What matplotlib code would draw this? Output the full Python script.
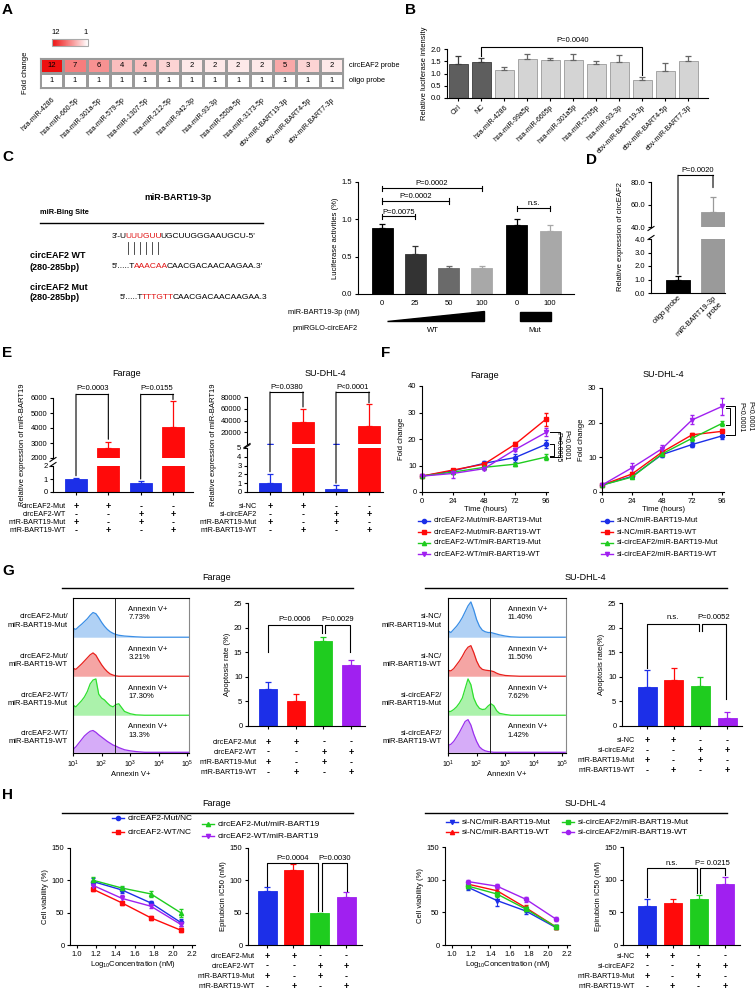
import matplotlib
matplotlib.use("Agg")
import matplotlib.pyplot as plt
import numpy as np
from matplotlib.lines import Line2D
from matplotlib.patches import ConnectionPatch, Polygon, Rectangle
from matplotlib.colors import LinearSegmentedColormap, Normalize
from matplotlib.cm import ScalarMappable

plt.rcParams['font.family'] = ['Liberation Sans', 'DejaVu Sans']
plt.rcParams['font.size'] = 5.5
plt.rcParams['axes.linewidth'] = 0.8
for a in ('xtick', 'ytick'):
    plt.rcParams[a + '.major.width'] = 0.8
    plt.rcParams[a + '.major.size'] = 2.5
    plt.rcParams[a + '.major.pad'] = 1.5
    plt.rcParams[a + '.labelsize'] = 5.5
plt.rcParams['axes.labelsize'] = 5.5
plt.rcParams['axes.labelpad'] = 2
plt.rcParams['mathtext.default'] = 'regular'

# ---------------- data ----------------
# A: pull-down fold change
heat_mirs = ['hsa-miR-4286', 'hsa-miR-660-5p', 'hsa-miR-301a-5p', 'hsa-miR-579-5p',
             'hsa-miR-1307-5p', 'hsa-miR-212-5p', 'hsa-miR-942-3p', 'hsa-miR-93-3p',
             'hsa-miR-550a-5p', 'hsa-miR-3173-5p', 'ebv-miR-BART19-3p',
             'ebv-miR-BART4-5p', 'ebv-miR-BART7-3p']
heat_probe = [12, 7, 6, 4, 4, 3, 2, 2, 2, 2, 5, 3, 2]
heat_oligo = [1, 1, 1, 1, 1, 1, 1, 1, 1, 1, 1, 1, 1]
heat_rows = ['circEAF2 probe', 'oligo probe']

# B: luciferase screen
luc_labels = ['Ctrl', 'NC', 'hsa-miR-4286', 'hsa-miR-99a5p', 'hsa-miR-6605p', 'hsa-miR-301a5p',
              'hsa-miR-5795p', 'hsa-miR-93-3p', 'ebv-miR-BART19-3p', 'ebv-miR-BART4-5p',
              'ebv-miR-BART7-3p']
luc_mean = [1.40, 1.45, 1.15, 1.60, 1.55, 1.55, 1.40, 1.45, 0.75, 1.12, 1.50]
luc_err = [0.30, 0.20, 0.12, 0.20, 0.08, 0.25, 0.10, 0.30, 0.12, 0.30, 0.20]

# C: dose response
c_ticks = ['0', '25', '50', '100', '0', '100']
c_mean = [0.88, 0.53, 0.35, 0.35, 0.92, 0.84]
c_err = [0.06, 0.11, 0.03, 0.03, 0.09, 0.08]

# D: pull-down qPCR
d_labels = ['oligo probe', 'miR-BART19-3p\nprobe']
d_mean = [1.0, 53.0]
d_err = [0.25, 14.0]

# E: miR-BART19 expression
e_far_mean = [1.0, 2700, 0.7, 4100]
e_far_err = [0.1, 400, 0.12, 1700]
e_su_mean = [1.0, 38000, 0.3, 31000]
e_su_err = [1.0, 22000, 0.45, 37000]
far_rows = ['circEAF2-Mut', 'circEAF2-WT', 'miR-BART19-Mut', 'miR-BART19-WT']
su_rows = ['si-NC', 'si-circEAF2', 'miR-BART19-Mut', 'miR-BART19-WT']
sign_pattern = ['++--', '--++', '+-+-', '-+-+']

# F: proliferation
f_time = [0, 24, 48, 72, 96]
f_far_1 = [6, 8.0, 10.8, 13.0, 18.0]
f_far_2 = [6, 8.3, 10.5, 18.0, 27.5]
f_far_3 = [6, 7.5, 9.3, 10.5, 13.2]
f_far_4 = [6, 7.0, 8.8, 16.0, 22.5]
f_far_e1 = [0.5, 0.5, 0.8, 1.5, 1.5]
f_far_e2 = [0.5, 0.5, 0.6, 0.8, 2.5]
f_far_e3 = [0.4, 0.4, 0.5, 0.6, 1.0]
f_far_e4 = [0.4, 1.8, 0.6, 0.7, 1.5]
f_su_1 = [2, 4.5, 10.8, 13.7, 16.2]
f_su_2 = [2, 5.2, 11.5, 16.5, 17.5]
f_su_3 = [2, 4.3, 11.0, 15.5, 19.8]
f_su_4 = [2, 7.0, 12.5, 20.8, 24.7]
f_su_e1 = [0.3, 0.4, 0.6, 0.8, 0.8]
f_su_e2 = [0.3, 0.5, 0.6, 0.6, 0.6]
f_su_e3 = [0.3, 0.4, 0.6, 0.7, 0.8]
f_su_e4 = [0.3, 1.5, 1.2, 1.3, 2.5]
f_far_names = ['circEAF2-Mut/miR-BART19-Mut', 'circEAF2-Mut/miR-BART19-WT',
               'circEAF2-WT/miR-BART19-Mut', 'circEAF2-WT/miR-BART19-WT']
f_su_names = ['si-NC/miR-BART19-Mut', 'si-NC/miR-BART19-WT',
              'si-circEAF2/miR-BART19-Mut', 'si-circEAF2/miR-BART19-WT']

# G: apoptosis (flow histograms, log10 Annexin V)
hist_log = [1.0, 1.03, 1.1, 1.2, 1.3, 1.4, 1.5, 1.6, 1.7, 1.8, 1.9, 2.0, 2.1, 2.2,
            2.3, 2.4, 2.5, 2.6, 2.7, 2.8, 3.0, 3.2, 3.5, 5.1]
g_far_h1 = [0, .22, .20, .27, .33, .40, .47, .56, .63, .60, .50, .38, .28, .20, .14, .10, .07, .05, .04, .03, .02, .01, 0, 0]
g_far_h2 = [0, .20, .18, .25, .32, .40, .48, .56, .61, .55, .42, .30, .20, .12, .06, .03, .01, 0, 0, 0, 0, 0, 0, 0]
g_far_h3 = [0, .25, .22, .30, .38, .48, .62, .82, .92, .95, .55, .45, .40, .32, .25, .22, .28, .30, .20, .10, .04, .01, 0, 0]
g_far_h4 = [0, .10, .15, .25, .35, .45, .52, .58, .60, .55, .48, .42, .36, .30, .25, .20, .17, .13, .10, .07, .04, .02, 0, 0]
g_su_h1 = [0, .15, .12, .20, .28, .38, .50, .65, .80, .90, .70, .45, .28, .18, .14, .12, .12, .10, .08, .06, .03, .01, 0, 0]
g_su_h2 = [0, .15, .14, .20, .30, .40, .52, .66, .76, .80, .62, .40, .25, .18, .16, .15, .14, .12, .08, .05, .02, .01, 0, 0]
g_su_h3 = [0, .10, .10, .15, .22, .32, .45, .70, .95, .80, .45, .28, .18, .15, .16, .24, .30, .25, .12, .05, .02, 0, 0, 0]
g_su_h4 = [0, .20, .22, .30, .42, .55, .70, .85, .90, .75, .50, .30, .15, .08, .04, .02, .01, 0, 0, 0, 0, 0, 0, 0]
g_far_pct = ['7.73%', '3.21%', '17.30%', '13.3%']
g_su_pct = ['11.40%', '11.50%', '7.62%', '1.42%']
g_far_rows = ['circEAF2-Mut/\nmiR-BART19-Mut', 'circEAF2-Mut/\nmiR-BART19-WT',
              'circEAF2-WT/\nmiR-BART19-Mut', 'circEAF2-WT/\nmiR-BART19-WT']
g_su_rows = ['si-NC/\nmiR-BART19-Mut', 'si-NC/\nmiR-BART19-WT',
             'si-circEAF2/\nmiR-BART19-Mut', 'si-circEAF2/\nmiR-BART19-WT']
g_far_mean = [7.5, 5.0, 17.3, 12.4]
g_far_err = [1.5, 1.6, 0.8, 1.1]
g_su_mean = [8.0, 9.3, 8.2, 1.7]
g_su_err = [3.3, 2.5, 1.8, 1.2]

# H: epirubicin sensitivity
h_conc = [1.17, 1.47, 1.77, 2.08]
h_far_1 = [98, 85, 65, 35]
h_far_2 = [86, 65, 42, 23]
h_far_3 = [100, 88, 79, 50]
h_far_4 = [92, 72, 60, 32]
h_far_e1 = [5, 4, 3, 5]
h_far_e2 = [3, 3, 3, 3]
h_far_e3 = [5, 3, 5, 6]
h_far_e4 = [3, 6, 3, 3]
h_su_1 = [88, 68, 52, 27]
h_su_2 = [93, 83, 57, 28]
h_su_3 = [90, 78, 55, 28]
h_su_4 = [97, 90, 70, 40]
h_su_e1 = [4, 9, 4, 3]
h_su_e2 = [4, 4, 4, 3]
h_su_e3 = [4, 4, 4, 3]
h_su_e4 = [3, 4, 4, 3]
h_far_names = ['circEAF2-Mut/NC', 'circEAF2-WT/NC', 'circEAF2-Mut/miR-BART19', 'circEAF2-WT/miR-BART19']
h_far_ic50 = [84, 116, 49, 75]
h_far_ic50_err = [5, 9, 1, 7]
h_su_ic50 = [60, 65, 70, 94]
h_su_ic50_err = [11, 5, 7, 10]

# ---------------- layout helpers ----------------
W, H = 755, 993
fig = plt.figure(figsize=(W / 100, H / 100), dpi=100)
renderer = fig.canvas.get_renderer()

BLUE, RED, GREEN, PURPLE = '#1c2fe8', '#ff0a0a', '#1fcc1f', '#a020f0'
four = [BLUE, RED, GREEN, PURPLE]


def box(x0, y0, x1, y1):
    return fig.add_axes([x0 / W, 1 - y1 / H, (x1 - x0) / W, (y1 - y0) / H])


def ftext(x, y, s, **kw):
    kw.setdefault('ha', 'center')
    kw.setdefault('va', 'center')
    return fig.text(x / W, 1 - y / H, s, **kw)


def fline(xs, ys, **kw):
    kw.setdefault('color', 'k')
    kw.setdefault('lw', 0.8)
    ln = Line2D([x / W for x in xs], [1 - y / H for y in ys], transform=fig.transFigure, **kw)
    fig.add_artist(ln)
    return ln


def prism(ax):
    ax.spines['top'].set_visible(False)
    ax.spines['right'].set_visible(False)


def bar_axes(x_spine, x_first, x_last, n, x_right, y_top, y_bot):
    s = (x_last - x_first) / (n - 1)
    ax = box(x_spine, y_top, x_right, y_bot)
    ax.set_xlim((x_spine - x_first) / s, (x_right - x_first) / s)
    prism(ax)
    return ax, s


def bars(ax, x, mean, err, colors, width, edge=None, ecol=None):
    ax.bar(x, mean, width=width, color=colors, edgecolor=edge or colors, linewidth=0.6)
    for xi, m, e, c in zip(x, mean, err, ecol or edge or colors):
        ax.errorbar(xi, m, yerr=[[0], [e]], fmt='none', ecolor=c, elinewidth=0.9,
                    capsize=2.2, capthick=0.9)


def bracket(ax, x1, x2, h, y1, y2, text, dy):
    ax.plot([x1, x1, x2, x2], [y1, h, h, y2], color='k', lw=0.8, clip_on=False)
    ax.text((x1 + x2) / 2, h + dy, text, ha='center', va='bottom', fontsize=5.5)


def link(axA, pA, axB, pB):
    fig.add_artist(ConnectionPatch(pA, pB, coordsA=axA.transData, coordsB=axB.transData,
                                   color='k', lw=0.8, annotation_clip=False))


def broken_bracket(ax1, x1, y1, axh, h, x2, ax2, y2, text, dy):
    link(ax1, (x1, y1), axh, (x1, h))
    axh.plot([x1, x2], [h, h], color='k', lw=0.8, clip_on=False)
    link(axh, (x2, h), ax2, (x2, y2))
    axh.text((x1 + x2) / 2, h + dy, text, ha='center', va='bottom', fontsize=5.5)


def break_mark(x, y_top, y_bot):
    for y in (y_top + 1.5, y_bot - 1.5):
        fline([x - 3, x + 3], [y + 2, y - 2], lw=0.8)


def sign_table(label_x, xs, ys, labels):
    for lab, y, pat in zip(labels, ys, sign_pattern):
        ftext(label_x, y, lab, ha='right', fontsize=5.2)
        for x, p in zip(xs, pat):
            ftext(x, y, p, fontsize=6.5, fontweight='bold')


def legend_entry(x, y, color, marker, label, fs=5.5):
    fline([x - 6, x, x + 6], [y, y, y], color=color, lw=1.0, marker=marker, ms=3,
          markevery=[1])
    ftext(x + 10, y, label, ha='left', fontsize=fs)


def color_text(x, y, parts, **kw):
    cur = x
    spans = []
    for s, c in parts:
        t = fig.text(cur / W, 1 - y / H, s, color=c, ha='left', va='center', **kw)
        bb = t.get_window_extent(renderer)
        spans.append((cur, cur + bb.width - 1.5))
        cur += bb.width - 1.5
    return spans


def letter(x, y, s):
    ftext(x, y, s, ha='left', va='top', fontsize=11, fontweight='bold')


# ---------------- A ----------------
letter(2, 3, 'A')
cmap_red = LinearSegmentedColormap.from_list('wr', ['#ffffff', '#ee1010'])
axA = box(40, 58, 343, 88)
grid = np.array([heat_probe, heat_oligo])
axA.pcolormesh(grid, cmap=cmap_red, vmin=1, vmax=12, edgecolors='#9a9a9a', linewidth=0.8)
axA.set_ylim(2, 0)
for i in range(2):
    for j in range(grid.shape[1]):
        axA.text(j + 0.5, i + 0.5, str(grid[i, j]), ha='center', va='center', fontsize=5.5)
axA.set_xticks(np.arange(len(heat_mirs)) + 0.5)
axA.set_xticklabels(heat_mirs, rotation=45, ha='right', rotation_mode='anchor', fontsize=5)
axA.set_yticks([])
axA.tick_params(axis='x', length=0, pad=6)
for s in axA.spines.values():
    s.set_color('#9a9a9a')
for i, lab in enumerate(heat_rows):
    axA.text(13.25, i + 0.5, lab, ha='left', va='center', fontsize=5.3)
ftext(25, 73, 'Fold change', rotation=90)
cax = box(52, 39, 88, 46)
cb = fig.colorbar(ScalarMappable(Normalize(1, 12), cmap_red.reversed()), cax=cax,
                  orientation='horizontal')
cb.set_ticks([])
cb.outline.set_edgecolor('#aaaaaa')
ftext(56, 32, '12', fontsize=5.5)
ftext(86, 32, '1', fontsize=5.5)

# ---------------- B ----------------
letter(405, 3, 'B')
axB, sB = bar_axes(447, 458, 688, 11, 708, 49, 98)
xB = np.arange(len(luc_labels))
bars(axB, xB, luc_mean, luc_err, ['#5e5e5e'] * 2 + ['#d4d4d4'] * 9, 19 / sB,
     edge=['#3c3c3c'] * 2 + ['#9a9a9a'] * 9, ecol=['#3c3c3c'] * 2 + ['#666666'] * 9)
axB.set_ylim(0, 2)
axB.set_yticks([0, 0.5, 1, 1.5, 2])
axB.set_yticklabels(['0.0', '0.5', '1.0', '1.5', '2.0'])
axB.set_xticks(xB)
axB.set_xticklabels(luc_labels, rotation=45, ha='right', rotation_mode='anchor', fontsize=5)
axB.set_ylabel('Relative luciferase intensity')
bracket(axB, 1, 8, 2.1, 1.72, 0.93, '', 0)
axB.text(5.0, 2.22, 'P=0.0040', ha='center', va='bottom', fontsize=5.5)

# ---------------- C ----------------
letter(2, 150, 'C')
ftext(178, 197, 'miR-BART19-3p', fontsize=6.3, fontweight='bold')
ftext(40, 213, 'miR-Bing Site', ha='left', fontsize=5.3, fontweight='bold')
fline([40, 263], [223, 223], lw=1.0)
seq3 = color_text(112, 237, [("3'-U", 'k'), ('UUUGUU', '#e01010'),
                             ("UGCUUGGGAAUGCU-5'", 'k')], fontsize=6.0)
cw = (seq3[1][1] - seq3[1][0]) / 6
for k in range(6):
    xk = seq3[1][0] + (k + 0.5) * cw
    fline([xk, xk], [242, 254], lw=0.6, color='#333333')
ftext(30, 255, 'circEAF2 WT', ha='left', fontsize=6.5, fontweight='bold')
ftext(30, 267, '(280-285bp)', ha='left', fontsize=6.5, fontweight='bold')
color_text(112, 267, [("5'.....T", 'k'), ('AAACAA', '#e01010'),
                      ("CAACGACAACAAGAA.3'", 'k')], fontsize=6.0)
ftext(30, 287, 'circEAF2 Mut', ha='left', fontsize=6.5, fontweight='bold')
ftext(30, 298, '(280-285bp)', ha='left', fontsize=6.5, fontweight='bold')
color_text(120, 297, [("5'.....T", 'k'), ('TTTGTT', '#e01010'),
                      ("CAACGACAACAAGAA.3", 'k')], fontsize=6.0)

c_x = [0, 1, 2, 3, 4.05, 5.05]
axC = box(358, 182, 574, 294)
axC.set_xlim((358 - 382) / 33.3, (574 - 382) / 33.3)
prism(axC)
c_cols = ['#000000', '#333333', '#6a6a6a', '#a8a8a8', '#000000', '#a8a8a8']
bars(axC, c_x, c_mean, c_err, c_cols, 21 / 33.3)
axC.set_ylim(0, 1.5)
axC.set_yticks([0, 0.5, 1.0, 1.5])
axC.set_yticklabels(['0.0', '0.5', '1.0', '1.5'])
axC.set_xticks(c_x)
axC.set_xticklabels(c_ticks)
axC.tick_params(axis='x', length=0, pad=4)
axC.set_ylabel('Luciferase activities (%)')
for x1, x2, h, t in [(0, 1, 1.04, 'P=0.0075'), (0, 2, 1.25, 'P=0.0002'),
                     (0, 3, 1.42, 'P=0.0002'), (4.05, 5.05, 1.15, 'n.s.')]:
    axC.plot([x1, x2], [h, h], color='k', lw=0.8, clip_on=False)
    for xe in (x1, x2):
        axC.plot([xe, xe], [h - 0.04, h + 0.03], color='k', lw=0.8, clip_on=False)
    axC.text((x1 + x2) / 2, h + 0.01, t, ha='center', va='bottom', fontsize=5.5)
ftext(360, 312, 'miR-BART19-3p (nM)', ha='right', fontsize=5.3)
ftext(358, 329, 'pmiRGLO-circEAF2', ha='right', fontsize=5.3)
fig.add_artist(Polygon([(387 / W, 1 - 321 / H), (484 / W, 1 - 321 / H), (484 / W, 1 - 311 / H)],
                       closed=True, color='k', transform=fig.transFigure))
fig.add_artist(Rectangle((520 / W, 1 - 321 / H), 31 / W, 9 / H, color='k',
                         transform=fig.transFigure))
ftext(433, 331, 'WT', fontsize=5.5)
ftext(535, 331, 'Mut', fontsize=5.5)

# ---------------- D ----------------
letter(586, 153, 'D')
d_x = [0, 1]
dl, dr = (651 - 678) / 35, (725 - 678) / 35
axDt = box(651, 182, 725, 227)
axDb = box(651, 239, 725, 293)
for ax in (axDt, axDb):
    ax.set_xlim(dl, dr)
    prism(ax)
    bars(ax, d_x, d_mean, d_err, ['#000000', '#9a9a9a'], 24 / 35)
axDt.spines['bottom'].set_visible(False)
axDt.set_xticks([])
axDt.set_ylim(40, 80)
axDt.set_yticks([40, 60, 80])
axDt.set_yticklabels(['40.0', '60.0', '80.0'])
axDb.set_ylim(0, 4)
axDb.set_yticks([0, 1, 2, 3, 4])
axDb.set_yticklabels(['0.0', '1.0', '2.0', '3.0', '4.0'])
axDb.set_xticks(d_x)
axDb.set_xticklabels(d_labels, rotation=45, ha='right', rotation_mode='anchor', fontsize=5.3)
axDb.tick_params(axis='x', length=0)
break_mark(651, 227, 239)
ftext(621, 237, 'Relative expression of circEAF2', rotation=90)
broken_bracket(axDb, 0, 1.4, axDt, 86, 1, axDt, 75, '', 0)
axDt.text(0.57, 87.5, 'P=0.0020', ha='center', va='bottom', fontsize=5.5)

# ---------------- E ----------------
letter(2, 346, 'E')
e_x = [0, 1, 2, 3]
e_cols = [BLUE, RED, BLUE, RED]
s_ef = (173 - 76) / 3
axEt = box(53, 398, 193, 458)
axEb = box(53, 466, 193, 492)
for ax in (axEt, axEb):
    ax.set_xlim((53 - 76) / s_ef, (193 - 76) / s_ef)
    prism(ax)
    bars(ax, e_x, e_far_mean, e_far_err, e_cols, 22 / s_ef)
axEt.spines['bottom'].set_visible(False)
axEt.set_xticks([])
axEt.set_ylim(2000, 6000)
axEt.set_yticks([2000, 3000, 4000, 5000, 6000])
axEb.set_ylim(0, 2)
axEb.set_yticks([0, 1, 2])
axEb.set_xticks(e_x)
axEb.set_xticklabels([])
break_mark(53, 458, 466)
ftext(127, 373, 'Farage', fontsize=6.5)
ftext(23, 445, 'Relative expression of miR-BART19', rotation=90)
broken_bracket(axEb, 0, 1.25, axEt, 6250, 1, axEt, 3250, 'P=0.0003', 150)
broken_bracket(axEb, 2, 1.0, axEt, 6250, 3, axEt, 5900, 'P=0.0155', 150)
sign_table(66, [76, 108, 141, 173], [507, 515, 523, 531], far_rows)

s_es = (369 - 270) / 3
axSt = box(247, 397, 383, 444)
axSb = box(247, 448, 383, 492)
for ax in (axSt, axSb):
    ax.set_xlim((247 - 270) / s_es, (383 - 270) / s_es)
    prism(ax)
    bars(ax, e_x, e_su_mean, e_su_err, e_cols, 22 / s_es)
axSt.spines['bottom'].set_visible(False)
axSt.set_xticks([])
axSt.set_ylim(0, 80000)
axSt.set_yticks([20000, 40000, 60000, 80000])
axSb.set_ylim(0, 5)
axSb.set_yticks([0, 1, 2, 3, 4, 5])
axSb.set_xticks(e_x)
axSb.set_xticklabels([])
break_mark(247, 444, 448)
ftext(325, 373, 'SU-DHL-4', fontsize=6.5)
ftext(213, 445, 'Relative expression of miR-BART19', rotation=90)
broken_bracket(axSb, 0, 2.3, axSt, 88500, 1, axSt, 63000, 'P=0.0380', 2500)
broken_bracket(axSb, 2, 1.0, axSt, 88500, 3, axSt, 70000, 'P<0.0001', 2500)
sign_table(257, [270, 303, 336, 369], [507, 515, 523, 531], su_rows)

# ---------------- F ----------------
letter(381, 346, 'F')
marks = ['o', 's', '^', 'v']


def line_panel(ax, x, ys, es):
    for y, e, c, m in zip(ys, es, four, marks):
        ax.errorbar(x, y, yerr=e, color=c, marker=m, ms=3, lw=1.0, elinewidth=0.8,
                    capsize=1.5, clip_on=False)


axF1 = box(422, 386, 548, 492)
prism(axF1)
line_panel(axF1, f_time, [f_far_1, f_far_2, f_far_3, f_far_4],
           [f_far_e1, f_far_e2, f_far_e3, f_far_e4])
axF1.set_xlim(0, 97.5)
axF1.set_ylim(0, 40)
axF1.set_xticks(f_time)
axF1.set_yticks([0, 10, 20, 30, 40])
axF1.set_xlabel('Time (hours)', labelpad=1)
axF1.set_ylabel('Fold change')
axF1.set_title('Farage', fontsize=6.5, pad=6)
axF1.plot([99, 107, 107, 99], [22.5, 22.5, 13.2, 13.2], color='k', lw=0.7, clip_on=False)
axF1.plot([99, 102, 102, 99], [18.0, 18.0, 13.6, 13.6], color='k', lw=0.7, clip_on=False)
axF1.text(105, 17.0, 'P=0.0005', rotation=270, ha='center', va='center', fontsize=5)
axF1.text(111.5, 17.5, 'P<0.0001', rotation=270, ha='center', va='center', fontsize=5)

axF2 = box(602, 388, 724, 492)
prism(axF2)
line_panel(axF2, f_time, [f_su_1, f_su_2, f_su_3, f_su_4],
           [f_su_e1, f_su_e2, f_su_e3, f_su_e4])
axF2.set_xlim(0, 97.5)
axF2.set_ylim(0, 30)
axF2.set_xticks(f_time)
axF2.set_yticks([0, 10, 20, 30])
axF2.set_xlabel('Time (hours)', labelpad=1)
axF2.set_ylabel('Fold change')
axF2.set_title('SU-DHL-4', fontsize=6.5, pad=8)
axF2.plot([99, 106, 106, 99], [24.9, 24.9, 16.5, 16.5], color='k', lw=0.7, clip_on=False)
axF2.plot([99, 102, 102, 99], [24.2, 24.2, 19.2, 19.2], color='k', lw=0.7, clip_on=False)
axF2.text(111, 21.5, 'P<0.0001', rotation=270, ha='center', va='center', fontsize=5)
axF2.text(118, 22.0, 'P<0.0001', rotation=270, ha='center', va='center', fontsize=5)

for i in range(4):
    legend_entry(424, 521 + 11 * i, four[i], marks[i], f_far_names[i])
    legend_entry(607, 521 + 11 * i, four[i], marks[i], f_su_names[i])

# ---------------- G ----------------
letter(2, 564, 'G')
ftext(217, 578, 'Farage', fontsize=6.5)
fline([62, 353], [588, 588], lw=1.0)
ftext(585, 578, 'SU-DHL-4', fontsize=6.5)
fline([425, 727], [588, 588], lw=1.0)

hist_line = ['#3a8ee6', '#e8201c', '#2ee02e', '#9a30ee']
rows_y = [598, 638, 677, 716, 753]


def flow_panel(x0, x1, curves, pct, labels, label_x, gate, text_x):
    xmax = 1 + (x1 - x0) / 28.6
    for i in range(4):
        ax = box(x0, rows_y[i], x1, rows_y[i + 1])
        ax.fill_between(hist_log, curves[i], color=hist_line[i], alpha=0.4, lw=0)
        ax.plot(hist_log, curves[i], color=hist_line[i], lw=0.9)
        ax.set_xlim(1, xmax)
        ax.set_ylim(-0.02, 1)
        ax.axis('off')
        ax.axvline(gate, color='#222222', lw=0.7)
        ax.text(text_x, 0.8, 'Annexin V+\n' + pct[i], ha='left', va='top', fontsize=5.5,
                linespacing=1.3)
        ftext(label_x, (rows_y[i] + rows_y[i + 1]) / 2 + 3, labels[i], ha='right',
              fontsize=5.5, linespacing=1.3)
    outer = box(x0, rows_y[0], x1, rows_y[4])
    outer.patch.set_visible(False)
    outer.set_xlim(1, xmax)
    outer.set_ylim(0, 1)
    outer.set_yticks([])
    outer.set_xticks([1, 2, 3, 4, 5])
    outer.set_xticklabels(['$10^{%d}$' % k for k in range(1, 6)], fontsize=5)
    outer.set_xlabel('Annexin V+', labelpad=1)
    outer.spines['right'].set_color('#888888')


flow_panel(73, 189, [g_far_h1, g_far_h2, g_far_h3, g_far_h4], g_far_pct, g_far_rows,
           68, 2.47, 2.93)
flow_panel(448, 566, [g_su_h1, g_su_h2, g_su_h3, g_su_h4], g_su_pct, g_su_rows,
           442, 2.46, 3.09)

axG1, sG1 = bar_axes(248, 268, 351, 4, 365, 603, 726)
bars(axG1, e_x, g_far_mean, g_far_err, four, 18 / sG1)
axG1.set_ylim(0, 25)
axG1.set_yticks([0, 5, 10, 15, 20, 25])
axG1.set_xticks(e_x)
axG1.set_xticklabels([])
axG1.set_ylabel('Apoptosis rate (%)')
bracket(axG1, 0, 1.95, 20.5, 15.0, 19.0, 'P=0.0006', 0.4)
bracket(axG1, 2.06, 2.96, 20.5, 19.0, 15.0, 'P=0.0029', 0.4)
sign_table(257, [268, 296, 324, 351], [742, 752, 763, 773], far_rows)

axG2, sG2 = bar_axes(622, 647, 727, 4, 742, 603, 726)
bars(axG2, e_x, g_su_mean, g_su_err, four, 19 / sG2)
axG2.set_ylim(0, 25)
axG2.set_yticks([0, 5, 10, 15, 20, 25])
axG2.set_xticks(e_x)
axG2.set_xticklabels([])
axG2.set_ylabel('Apoptosis rate(%)')
bracket(axG2, 0, 1.95, 20.8, 11.8, 19.3, 'n.s.', 0.6)
bracket(axG2, 2.05, 2.95, 20.8, 19.3, 5.5, 'P=0.0052', 0.6)
sign_table(635, [647, 673, 700, 727], [741, 751, 761, 771], su_rows)

# ---------------- H ----------------
letter(2, 788, 'H')
ftext(217, 803, 'Farage', fontsize=6.5)
fline([62, 353], [813, 813], lw=1.0)
ftext(585, 803, 'SU-DHL-4', fontsize=6.5)
fline([425, 727], [813, 813], lw=1.0)

legend_entry(118, 818, BLUE, 'o', h_far_names[0], 6)
legend_entry(118, 832, RED, 's', h_far_names[1], 6)
legend_entry(208, 824, GREEN, '^', h_far_names[2], 6)
legend_entry(208, 836, PURPLE, 'v', h_far_names[3], 6)
legend_entry(452, 822, BLUE, 'v', f_su_names[0], 6)
legend_entry(452, 832, RED, '^', f_su_names[1], 6)
legend_entry(568, 822, GREEN, 's', f_su_names[2], 6)
legend_entry(568, 832, PURPLE, 'o', f_su_names[3], 6)


def viability(ax, ys, es, mk):
    for y, e, c, m in zip(ys, es, four, mk):
        ax.errorbar(h_conc, y, yerr=e, color=c, marker=m, ms=3, lw=1.0, elinewidth=0.8,
                    capsize=1.5)
    ax.set_xlim(0.927, 2.23)
    ax.set_ylim(0, 150)
    ax.set_xticks([1.0, 1.2, 1.4, 1.6, 1.8, 2.0, 2.2])
    ax.set_xticklabels(['1.0', '1.2', '1.4', '1.6', '1.8', '2.0', '2.2'])
    ax.set_yticks([0, 50, 100, 150])
    ax.set_ylabel('Cell viability (%)')
    ax.set_xlabel('Log$_{10}$Concentration (nM)', labelpad=1)


axH1 = box(70, 848, 195, 945)
prism(axH1)
viability(axH1, [h_far_1, h_far_2, h_far_3, h_far_4], [h_far_e1, h_far_e2, h_far_e3, h_far_e4],
          ['o', 's', '^', 'v'])
axH3 = box(445, 847, 570, 945)
prism(axH3)
viability(axH3, [h_su_1, h_su_2, h_su_3, h_su_4], [h_su_e1, h_su_e2, h_su_e3, h_su_e4],
          ['v', '^', 's', 'o'])

axH2, sH2 = bar_axes(248, 267, 346, 4, 362, 848, 945)
bars(axH2, e_x, h_far_ic50, h_far_ic50_err, four, 19 / sH2)
axH2.set_ylim(0, 150)
axH2.set_yticks([0, 50, 100, 150])
axH2.set_xticks(e_x)
axH2.set_xticklabels([])
axH2.set_ylabel('Epirubicin IC50 (nM)')
bracket(axH2, 0, 1.94, 127, 92, 52, 'P=0.0004', 2)
bracket(axH2, 2.08, 3.02, 127, 52, 84, 'P=0.0030', 2)
sign_table(255, [267, 294, 320, 346], [956, 966, 977, 987], far_rows)

axH4, sH4 = bar_axes(623, 647, 725, 4, 740, 847, 945)
bars(axH4, e_x, h_su_ic50, h_su_ic50_err, four, 18 / sH4)
axH4.set_ylim(0, 150)
axH4.set_yticks([0, 50, 100, 150])
axH4.set_xticks(e_x)
axH4.set_xticklabels([])
axH4.set_ylabel('Epirubicin IC50 (nM)')
bracket(axH4, 0, 1.92, 118, 74, 79, 'n.s.', 2)
bracket(axH4, 2.04, 3.0, 118, 79, 107, 'P= 0.0215', 2)
sign_table(635, [647, 672, 698, 725], [956, 966, 977, 987], su_rows)

fig.savefig('out.png', dpi=100)
